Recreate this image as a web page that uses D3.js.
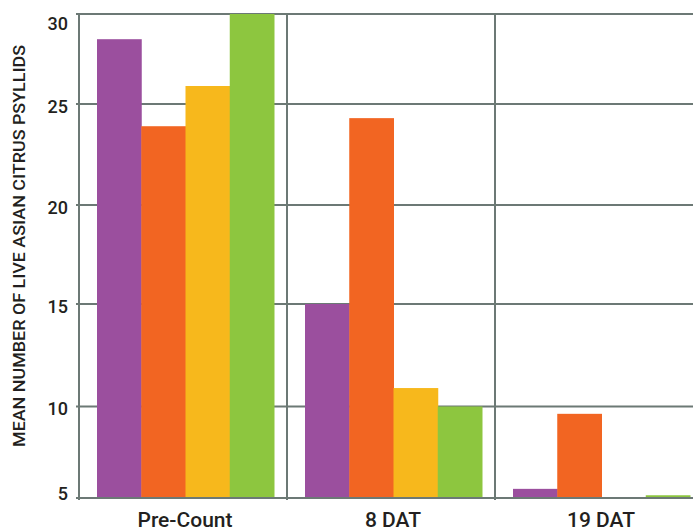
<!DOCTYPE html>
<html>
<head>
<meta charset="utf-8">
<script src="https://cdn.jsdelivr.net/npm/d3@7"></script>
<style>
	html, body { margin: 0; padding: 0; background: #fff; }
	svg text { font-family: Roboto, 'Liberation Sans', sans-serif; font-weight: 500; fill: #231f20; }
</style>
</head>
<body>
<div id="chart"></div>
<script>
( function () {

	// Groups along the bottom.
	var categories = [ 'Pre-Count', '8 DAT', '19 DAT' ];

	// One array per treatment.
	var seriesNames = [ 'purple', 'orange', 'yellow', 'green' ];
	var purpleValues = [ 28.6, 15.0, 5.5 ];
	var orangeValues = [ 23.9, 24.3, 9.6 ];
	var yellowValues = [ 26.0, 10.9, 5.0 ];
	var greenValues = [ 30.0, 10.0, 5.15 ];

	var yTicks = [ 5, 10, 15, 20, 25, 30 ];
	var yTitle = 'MEAN NUMBER OF LIVE ASIAN CITRUS PSYLLIDS';

	var colors = [ '#9b4f9e', '#f26522', '#f7b81c', '#8dc63f' ];
	var gridColor = '#6c7975';

	var width = 693, height = 531;
	var svg = d3.select( '#chart' ).append( 'svg' ).attr( 'width', width ).attr( 'height', height );

	// The original axis isn't evenly spaced at the ends, so map it piecewise.
	var yScale = d3.scaleLinear().domain( [ 5, 10, 15, 20, 25, 30 ] ).range( [ 498, 406.5, 304, 205, 104, 14 ] );

	// Groups run off the right edge of the picture.
	var x0 = d3.scaleBand().domain( categories ).range( [ 80, 704 ] ).paddingInner( 0 ).paddingOuter( 0 );
	var x1 = d3.scaleBand().domain( seriesNames ).range( [ 17, 194 ] ).padding( 0 );

	var allSeries = [ purpleValues, orangeValues, yellowValues, greenValues ];

	// Horizontal grid lines.
	svg.append( 'g' )
		.selectAll( 'line' )
		.data( yTicks )
		.enter()
		.append( 'line' )
		.attr( 'x1', 76 )
		.attr( 'x2', width )
		.attr( 'y1', function ( d ) { return yScale( d ); } )
		.attr( 'y2', function ( d ) { return yScale( d ); } )
		.attr( 'stroke', gridColor )
		.attr( 'stroke-width', 2 );

	// Bars.
	var group = svg.selectAll( 'g.group' )
		.data( categories )
		.enter()
		.append( 'g' )
		.attr( 'class', 'group' )
		.attr( 'transform', function ( d ) { return 'translate( ' + x0( d ) + ', 0 )'; } );

	group.selectAll( 'rect' )
		.data( function ( d, i ) {
			return allSeries.map( function ( s, j ) { return { key: seriesNames[j], value: s[i], color: colors[j] }; } );
		} )
		.enter()
		.append( 'rect' )
		.attr( 'x', function ( d ) { return x1( d.key ); } )
		.attr( 'width', x1.bandwidth() + 0.5 )
		.attr( 'y', function ( d ) { return yScale( d.value ); } )
		.attr( 'height', function ( d ) { return Math.max( 0, yScale( 5 ) - yScale( d.value ) - 1 ); } )
		.attr( 'fill', function ( d ) { return d.color; } );

	// Vertical separators between groups, plus the left axis.
	svg.append( 'g' )
		.selectAll( 'line' )
		.data( categories )
		.enter()
		.append( 'line' )
		.attr( 'x1', function ( d ) { return x0( d ) - 1; } )
		.attr( 'x2', function ( d ) { return x0( d ) - 1; } )
		.attr( 'y1', yScale( 30 ) - 1 )
		.attr( 'y2', yScale( 5 ) + 2 )
		.attr( 'stroke', gridColor )
		.attr( 'stroke-width', 2 );

	// Y tick labels.
	svg.append( 'g' )
		.selectAll( 'text' )
		.data( yTicks )
		.enter()
		.append( 'text' )
		.attr( 'x', 68 )
		.attr( 'y', function ( d ) { return Math.min( 500, Math.max( 30, yScale( d ) + 8.5 ) ); } )
		.attr( 'text-anchor', 'end' )
		.style( 'font-size', '18px' )
		.text( function ( d ) { return d; } );

	// X labels.
	svg.append( 'g' )
		.selectAll( 'text' )
		.data( categories )
		.enter()
		.append( 'text' )
		.attr( 'x', function ( d ) { return x0( d ) + x0.bandwidth() / 2 + 1; } )
		.attr( 'y', 527 )
		.attr( 'text-anchor', 'middle' )
		.style( 'font-size', '21px' )
		.text( function ( d ) { return d; } );

	// Y axis title.
	svg.append( 'text' )
		.attr( 'transform', 'translate( 25, 246 ) rotate( -90 )' )
		.attr( 'text-anchor', 'middle' )
		.attr( 'textLength', 402 )
		.attr( 'lengthAdjust', 'spacingAndGlyphs' )
		.style( 'font-size', '17px' )
		.text( yTitle );

} )();
</script>
</body>
</html>
